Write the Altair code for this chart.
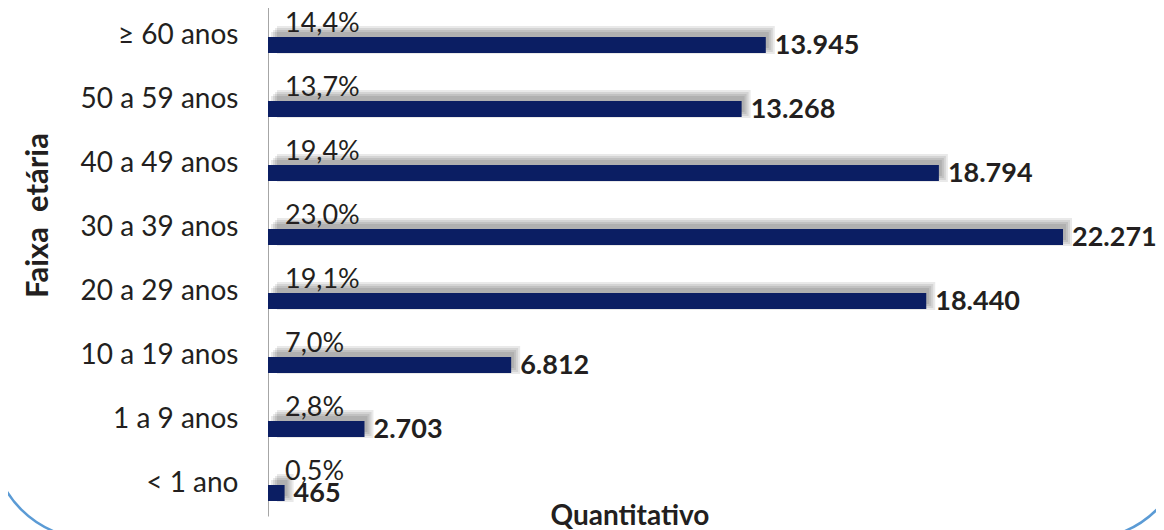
import altair as alt
import pandas as pd

categories = ["≥ 60 anos", "50 a 59 anos", "40 a 49 anos", "30 a 39 anos",
              "20 a 29 anos", "10 a 19 anos", "1 a 9 anos", "< 1 ano"]
quantities = [13945, 13268, 18794, 22271, 18440, 6812, 2703, 465]
percents = [14.4, 13.7, 19.4, 23.0, 19.1, 7.0, 2.8, 0.5]

df = pd.DataFrame({"faixa": categories, "qtd": quantities, "pct": percents})

FONT = "Lato"
TEXT = "#231f20"
BAR = "#0b1e63"

y_enc = alt.Y(
    "faixa:N",
    scale=alt.Scale(domain=categories, range=[-4, 508], paddingInner=0, paddingOuter=0),
    axis=alt.Axis(
        title="Faixa \u00a0etária", titleX=-230, titleY=207, titleAngle=270,
        titleAlign="center", titleBaseline="middle", titleFont=FONT,
        titleFontSize=31, titleFontWeight="bold", titleColor=TEXT,
        labelFont=FONT, labelFontSize=28, labelColor=TEXT, labelPadding=30,
        ticks=False, domainColor="#a6a6a6", domainWidth=1, grid=False,
        labelLimit=400,
    ),
)
x_enc = alt.X(
    "qtd:Q",
    scale=alt.Scale(domain=[0, 24876], nice=False),
    axis=None,
)

base = alt.Chart(df).transform_calculate(
    qtd_lbl="replace(format(datum.qtd, ','), ',', '.')",
    pct_lbl="replace(format(datum.pct, '.1f'), '.', ',') + '%'",
)

deco = alt.Chart(alt.Data(values=[{"t": "Quantitativo"}]))

border = deco.mark_rect(
    cornerRadius=100, fillOpacity=0, stroke="#5b9bd5", strokeWidth=2.5
).encode(
    x=alt.value(-276), x2=alt.value(918), y=alt.value(-55), y2=alt.value(531)
)

x_title = deco.mark_text(
    align="center", baseline="middle", font=FONT, fontSize=28,
    fontWeight="bold", color=TEXT
).encode(x=alt.value(362), y=alt.value(509), text="t:N")

shadows = []
for s in [0, 2, 4, 6]:
    shadows.append(
        base.mark_bar(size=16 + 2 * s, color="black", opacity=0.085,
                      yOffset=4, xOffset=3 + s, x2Offset=4).encode(x=x_enc, y=y_enc)
    )

bars = base.mark_bar(size=16, color=BAR, yOffset=9).encode(x=x_enc, y=y_enc)

pct_text = base.mark_text(
    align="left", baseline="middle", dx=17, dy=-12, font=FONT, fontSize=27, color=TEXT
).encode(x=alt.XDatum(0, axis=None), y=y_enc, text="pct_lbl:N")

val_text = base.mark_text(
    align="left", baseline="middle", dx=9, dy=10, font=FONT, fontSize=27,
    fontWeight="bold", color=TEXT
).encode(x=x_enc, y=y_enc, text="qtd_lbl:N")

chart = alt.layer(border, *shadows, bars, pct_text, val_text, x_title).properties(
    width=888, height=508,
    autosize=alt.AutoSizeParams(type="none"),
    padding={"left": 260, "top": 0, "right": 0, "bottom": 22},
).configure_view(stroke=None)

chart.save("out.html", embed_options={"renderer": "svg", "actions": False})
